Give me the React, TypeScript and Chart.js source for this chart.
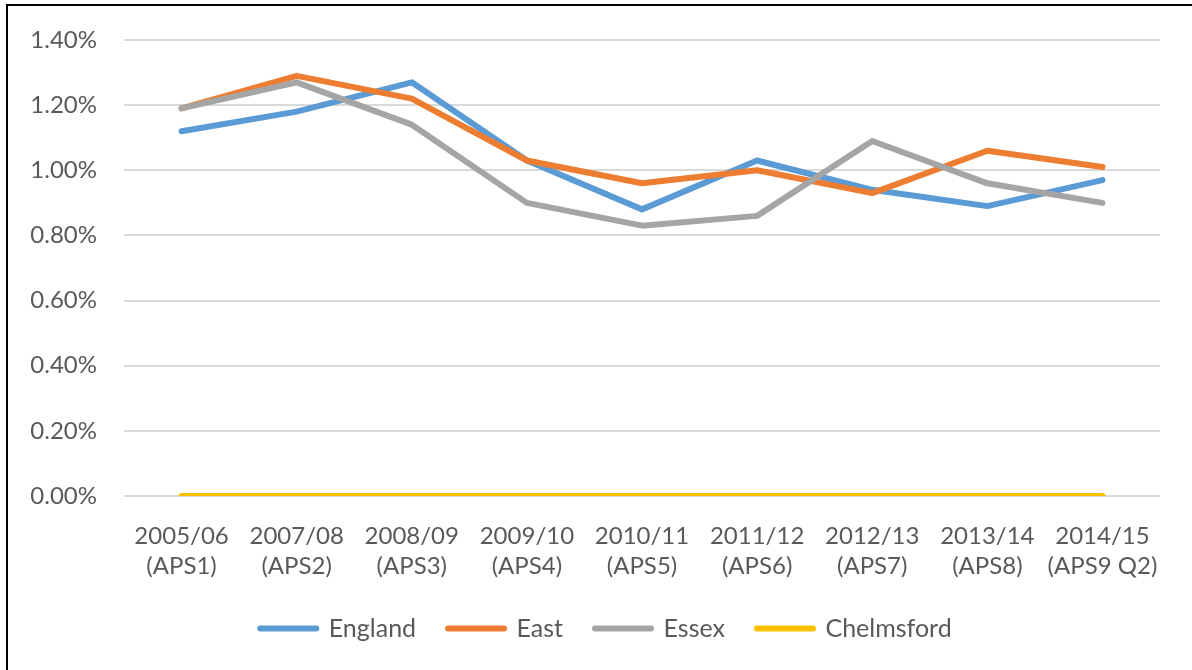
import React, { useEffect, useRef } from "react";
import { Chart, registerables } from "chart.js";

Chart.register(...registerables);

const categories: string[][] = [
  ["2005/06", "(APS1)"],
  ["2007/08", "(APS2)"],
  ["2008/09", "(APS3)"],
  ["2009/10", "(APS4)"],
  ["2010/11", "(APS5)"],
  ["2011/12", "(APS6)"],
  ["2012/13", "(APS7)"],
  ["2013/14", "(APS8)"],
  ["2014/15", "(APS9 Q2)"],
];

const england = [1.12, 1.18, 1.27, 1.03, 0.88, 1.03, 0.94, 0.89, 0.97];
const east = [1.19, 1.29, 1.22, 1.03, 0.96, 1.0, 0.93, 1.06, 1.01];
const essex = [1.19, 1.27, 1.14, 0.9, 0.83, 0.86, 1.09, 0.96, 0.9];
const chelmsford = [0, 0, 0, 0, 0, 0, 0, 0, 0];

const yTicks = [0, 0.2, 0.4, 0.6, 0.8, 1.0, 1.2, 1.4];

const FONT = "Lato, 'Noto Sans', sans-serif";
const TEXT = "#595959";

export default function App() {
  const ref = useRef<HTMLCanvasElement | null>(null);

  useEffect(() => {
    if (!ref.current) return;
    const mk = (label: string, data: number[], color: string, order: number) => ({
      label,
      data,
      borderColor: color,
      backgroundColor: color,
      borderWidth: 6,
      pointRadius: 0,
      tension: 0,
      borderCapStyle: "round" as const,
      borderJoinStyle: "round" as const,
      order,
    });
    const chart = new Chart(ref.current, {
      type: "line",
      data: {
        labels: categories,
        datasets: [
          mk("England", england, "#5B9BD5", 4),
          mk("East", east, "#ED7D31", 3),
          mk("Essex", essex, "#A5A5A5", 2),
          mk("Chelmsford", chelmsford, "#FFC000", 1),
        ],
      },
      options: {
        animation: false,
        responsive: false,
        maintainAspectRatio: false,
        layout: { padding: { left: 44, right: 32, top: 34, bottom: 21 } },
        scales: {
          x: {
            offset: true,
            grid: { display: false },
            border: { display: false },
            afterFit: (axis: any) => {
              axis.height = 88;
            },
            ticks: {
              color: TEXT,
              font: { family: FONT, size: 24, lineHeight: 1.25 },
              maxRotation: 0,
              autoSkip: false,
              padding: 17,
            },
          },
          y: {
            min: 0,
            max: 1.4,
            afterBuildTicks: (axis: any) => {
              axis.ticks = yTicks.map((v) => ({ value: v }));
            },
            afterFit: (axis: any) => {
              axis.width = 72;
              axis.paddingTop = 0;
              axis._computeLabelArea = () => undefined;
            },
            grid: { color: "#D9D9D9", lineWidth: 2, drawTicks: false },
            border: { display: false },
            ticks: {
              color: TEXT,
              font: { family: FONT, size: 24 },
              padding: 27,
              callback: (v: any) => Number(v).toFixed(2) + "%",
            },
          },
        },
        plugins: {
          tooltip: { enabled: false },
          legend: {
            position: "bottom",
            labels: {
              color: TEXT,
              font: { family: FONT, size: 25 },
              usePointStyle: true,
              pointStyleWidth: 56,
              boxWidth: 56,
              boxHeight: 6,
              padding: 32,
              generateLabels: (c: any) => {
                const items = Chart.defaults.plugins.legend.labels.generateLabels(c);
                items.sort((a: any, b: any) => a.datasetIndex - b.datasetIndex);
                return items.map((it: any) => ({
                  ...it,
                  pointStyle: "line",
                  lineWidth: 6,
                  lineCap: "round",
                  lineDash: [],
                }));
              },
            },
          },
        },
      } as any,
    });
    return () => chart.destroy();
  }, []);

  return (
    <div
      style={{
        position: "fixed",
        left: 0,
        top: 0,
        width: 1192,
        height: 670,
        background: "#fff",
        overflow: "hidden",
      }}
    >
      <div
        style={{
          position: "absolute",
          left: 6,
          top: 4,
          width: 1300,
          height: 800,
          borderLeft: "2px solid #000",
          borderTop: "2px solid #000",
        }}
      />
      <canvas
        ref={ref}
        width={1184}
        height={666}
        style={{ position: "absolute", left: 8, top: 6, width: 1184, height: 666 }}
      />
    </div>
  );
}
